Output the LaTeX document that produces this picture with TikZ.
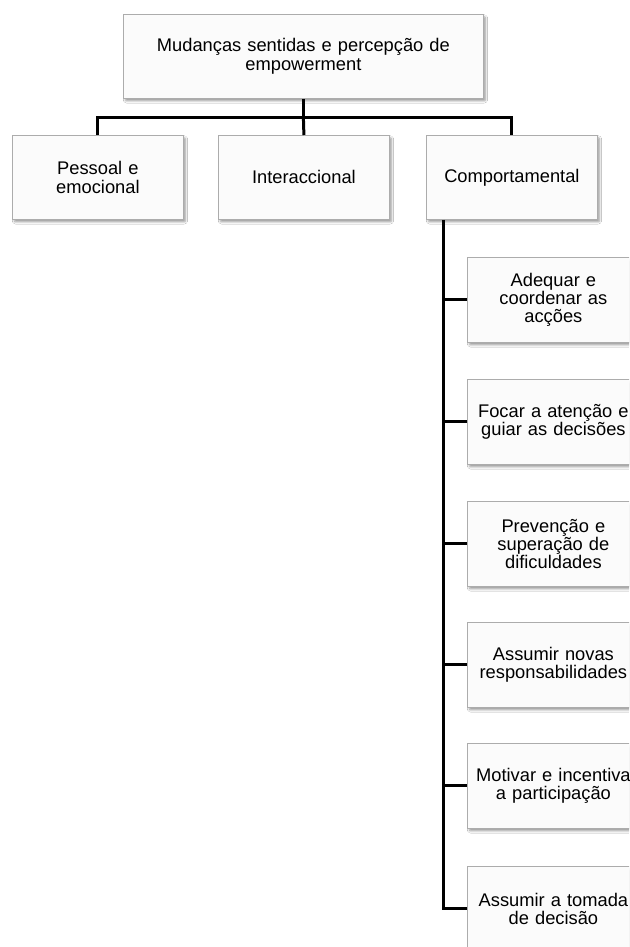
\documentclass[tikz,border=0pt]{standalone}
\usepackage{fontspec}
\setmainfont{Liberation Sans}
\usetikzlibrary{calc,shadows,shadows.blur}
\begin{document}
\begin{tikzpicture}[x=1pt,y=-1pt,
  box/.style={draw=gray!65, line width=0.8pt, fill=gray!3, anchor=north west,
    align=center, inner sep=2pt,
    font=\fontsize{18.3}{18.3}\selectfont,
    blur shadow={shadow xshift=2pt, shadow yshift=-2.5pt, shadow blur steps=6,
      shadow blur extra rounding=1pt, shadow opacity=40}},
  lvl2/.style={box, minimum width=171pt, minimum height=84pt, text width=165pt},
  leaf/.style={box, minimum width=172pt, minimum height=85pt, text width=166pt},
  link/.style={line width=3pt, black}]
\useasboundingbox (0,0) rectangle (629,947);
\clip (0,0) rectangle (629,947);
\fill[white] (0,0) rectangle (629,947);

% root and first level
\node[box, minimum width=360pt, minimum height=84pt, text width=350pt] (root) at (123,14)
  {Mudanças sentidas e percepção de\\empowerment};
\node[lvl2] (pess) at (12,135) {Pessoal e\\emocional};
\node[lvl2] (inter) at (218,135) {Interaccional};
\node[lvl2] (comp) at (426,135) {Comportamental};

% behavioural sub-items
\node[leaf] (l1) at (467,257) {Adequar e\\coordenar as\\acções};
\node[leaf] (l2) at (467,379) {Focar a atenção e\\guiar as decisões};
\node[leaf] (l3) at (467,501) {Prevenção e\\superação de\\dificuldades};
\node[leaf] (l4) at (467,622) {Assumir novas\\responsabilidades};
\node[leaf] (l5) at (467,743) {Motivar e incentiva\\a participação};
\node[leaf] (l6) at (467,866) {Assumir a tomada\\de decisão};

% tree connectors
\coordinate (bus) at ($(root.south)+(0,19)$);
\draw[link] (root.south) -- (bus);
\draw[link] (bus) -| (pess.north);
\draw[link] (bus) -- (inter.north);
\draw[link] (bus) -| (comp.north);

\coordinate (trunk) at ([xshift=17pt]comp.south west);
\draw[link] (trunk) |- (l6.west);
\foreach \n in {l1,l2,l3,l4,l5}
  \draw[link] (\n.west -| trunk) -- (\n.west);
\end{tikzpicture}
\end{document}
